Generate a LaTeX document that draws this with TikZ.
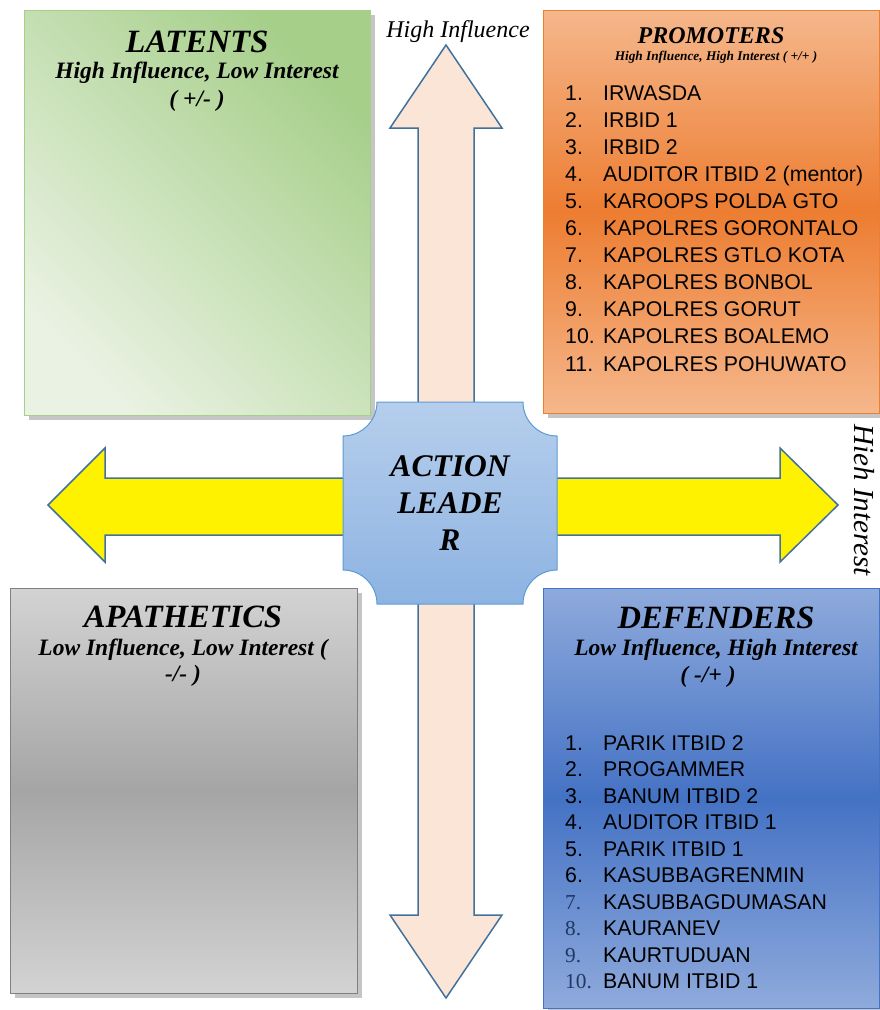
\documentclass[tikz,border=0pt]{standalone}
\usepackage{fontspec}
\setmainfont{Liberation Serif}
\setsansfont{Liberation Sans}
\usetikzlibrary{shadows}
\definecolor{latlight}{HTML}{EAF2E3}
\definecolor{latdark}{HTML}{A6CF8A}
\definecolor{prolight}{HTML}{F5B78C}
\definecolor{prodark}{HTML}{ED7D31}
\definecolor{aplight}{HTML}{D3D3D3}
\definecolor{apdark}{HTML}{A5A5A5}
\definecolor{deflight}{HTML}{8FAADC}
\definecolor{defdark}{HTML}{4472C4}
\definecolor{peach}{HTML}{FBE5D6}
\definecolor{arrowline}{HTML}{41719C}
\definecolor{leadtop}{HTML}{B6CEEC}
\definecolor{leadbot}{HTML}{8DB3E2}
\definecolor{leadline}{HTML}{5B9BD5}
\definecolor{numblue}{HTML}{1F3864}
\begin{document}
\begin{tikzpicture}[x=1pt,y=-1pt,
  box/.style={draw,line width=1pt,inner sep=0pt,
    drop shadow={shadow xshift=5pt,shadow yshift=-5pt,fill=black!45}},
  head/.style={font=\fontsize{32.5}{36}\selectfont\bfseries\itshape},
  sub/.style={font=\fontsize{23.5}{26}\selectfont\bfseries\itshape},
  item/.style={font=\sffamily\fontsize{21.3}{24}\selectfont,anchor=base west,inner sep=0pt},
  bigarrow/.style={draw=arrowline,line width=1.5pt,line join=miter}]
\useasboundingbox (0,0) rectangle (879,1010);

% quadrant boxes
\node[box,draw=latdark,top color=latdark,bottom color=latlight,shading angle=-45,
  minimum width=346pt,minimum height=405pt] (latents) at (197,212.5) {};
\node[box,draw=prodark,top color=prolight,bottom color=prolight,middle color=prodark,
  minimum width=336pt,minimum height=403pt] (promoters) at (711,211.5) {};
\node[box,draw=black!50,top color=aplight,bottom color=aplight,middle color=apdark,
  minimum width=347pt,minimum height=405pt] (apathetics) at (183.5,790.5) {};
\node[box,draw=defdark,top color=deflight,bottom color=deflight,middle color=defdark,
  minimum width=336pt,minimum height=420pt] (defenders) at (711,798) {};

% the two arrows
\draw[bigarrow,fill=peach] (446,45) -- (502,128) -- (474,128) -- (474,915) -- (502,915)
  -- (446,998) -- (390,915) -- (418,915) -- (418,128) -- (390,128) -- cycle;
\draw[bigarrow,fill=yellow] (48,505) -- (105,448) -- (105,478) -- (780,478) -- (780,448)
  -- (838,505) -- (780,562) -- (780,535) -- (105,535) -- (105,562) -- cycle;

% action leader
\path[draw=leadline,line width=1pt,top color=leadtop,bottom color=leadbot]
  (377,402) -- (523,402) arc[start angle=180,end angle=270,radius=34pt]
  -- (557,570) arc[start angle=90,end angle=180,radius=34pt]
  -- (377,604) arc[start angle=0,end angle=90,radius=34pt]
  -- (343,436) arc[start angle=270,end angle=360,radius=34pt] -- cycle;
\node[font=\fontsize{31.5}{37}\selectfont\bfseries\itshape,align=center] (leader) at (450,503)
  {ACTION\\LEADE\\R};

% axis labels
\node[font=\fontsize{24}{26}\selectfont\itshape] (infl) at (458,32) {High Influence};
\node[font=\fontsize{29}{30}\selectfont\itshape,rotate=-90] (intr) at (864,500) {Hieh Interest};

% LATENTS
\node[head] (latT) at (197,42) {LATENTS};
\node[sub] (latS) at (197,73) {High Influence, Low Interest};
\node[sub] (latP) at (197,101) {( +/- )};

% PROMOTERS
\node[font=\fontsize{24}{26}\selectfont\bfseries\itshape] (proT) at (711,36) {PROMOTERS};
\node[font=\fontsize{13.3}{15}\selectfont\bfseries\itshape] (proS) at (716,57)
  {High Influence, High Interest ( +/+ )};
\foreach \t [count=\k] in {IRWASDA, IRBID 1, IRBID 2, AUDITOR ITBID 2 (mentor),
  KAROOPS POLDA GTO, KAPOLRES GORONTALO, KAPOLRES GTLO KOTA, KAPOLRES BONBOL,
  KAPOLRES GORUT, KAPOLRES BOALEMO, KAPOLRES POHUWATO}{
  \node[item] (pn\k) at (565,{100+(\k-1)*27.1}) {\k.};
  \node[item] (pt\k) at (603,{100+(\k-1)*27.1}) {\t};
}

% APATHETICS
\node[head] (apT) at (183,617) {APATHETICS};
\node[sub] (apS) at (183,650) {Low Influence, Low Interest (};
\node[sub] (apP) at (183,676) {-/- )};

% DEFENDERS
\node[head] (defT) at (716,618) {DEFENDERS};
\node[sub] (defS) at (716,650) {Low Influence, High Interest};
\node[sub] (defP) at (708,677) {( -/+ )};
\foreach \t [count=\k] in {PARIK ITBID 2, PROGAMMER, BANUM ITBID 2, AUDITOR ITBID 1,
  PARIK ITBID 1, KASUBBAGRENMIN}{
  \node[item] (dn\k) at (565,{750+(\k-1)*26.5}) {\k.};
  \node[item] (dt\k) at (603,{750+(\k-1)*26.5}) {\t};
}
\foreach \t [count=\k from 7] in {KASUBBAGDUMASAN, KAURANEV, KAURTUDUAN, BANUM ITBID 1}{
  \node[item,font=\fontsize{21.3}{24}\selectfont,text=numblue] (dn\k) at (565,{750+(\k-1)*26.5}) {\k.};
  \node[item] (dt\k) at (603,{750+(\k-1)*26.5}) {\t};
}
\end{tikzpicture}
\end{document}
